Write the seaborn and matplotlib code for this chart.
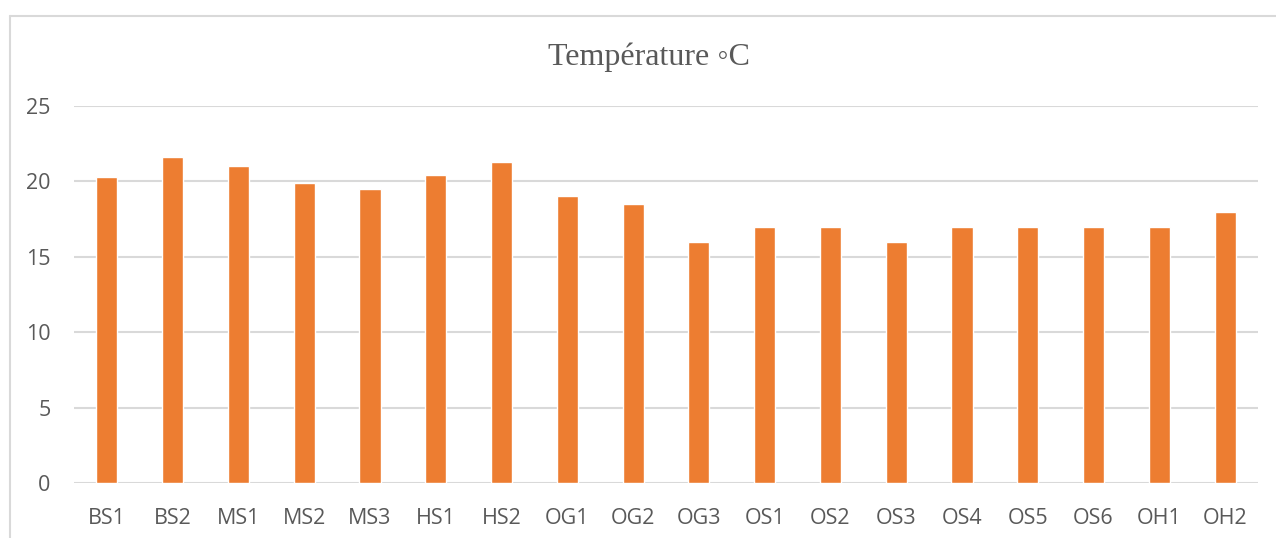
import matplotlib
matplotlib.use("Agg")
import matplotlib.pyplot as plt
import seaborn as sns
from matplotlib.lines import Line2D

categories = ["BS1", "BS2", "MS1", "MS2", "MS3", "HS1", "HS2", "OG1", "OG2",
              "OG3", "OS1", "OS2", "OS3", "OS4", "OS5", "OS6", "OH1", "OH2"]
temperature = [20.3, 21.6, 21.0, 19.9, 19.5, 20.4, 21.3, 19.0, 18.5,
               16.0, 17.0, 17.0, 16.0, 17.0, 17.0, 17.0, 17.0, 18.0]
y_ticks = [0, 5, 10, 15, 20, 25]
title = "Température ◦C"

sns.set_style("white")
plt.rcParams["font.family"] = ["Open Sans", "DejaVu Sans"]

W, H = 1276, 538
fig = plt.figure(figsize=(W / 100, H / 100), dpi=100)
ax = fig.add_axes([74 / W, 55 / H, (1258 - 74) / W, (483 - 106) / H])

sns.barplot(x=categories, y=temperature, color="#ED7D31", saturation=1,
            width=0.32, ax=ax, zorder=3)

ax.set_xlim(-0.5, len(categories) - 0.5)
ax.set_ylim(0, 25)
ax.set_yticks(y_ticks)
ax.set_xlabel("")
ax.set_ylabel("")
for s in ax.spines.values():
    s.set_visible(False)
ax.grid(axis="y", color="#d9d9d9", linewidth=1.5, zorder=0)
ax.set_axisbelow(True)
ax.tick_params(axis="both", length=0, labelsize=15.5, colors="#595959")
ax.tick_params(axis="x", pad=18)
ax.tick_params(axis="y", pad=17)

fig.text(649 / W, 1 - 57 / H, title, ha="center", va="center",
         family=["Liberation Serif", "DejaVu Serif"], fontsize=23, color="#595959")

# chart area border (partially outside the image)
fig.add_artist(Line2D([10 / W, 1.01], [1 - 16 / H, 1 - 16 / H], transform=fig.transFigure,
                      color="#d9d9d9", linewidth=1.5))
fig.add_artist(Line2D([10 / W, 10 / W], [-0.01, 1 - 16 / H], transform=fig.transFigure,
                      color="#d9d9d9", linewidth=1.5))

fig.savefig("out.png", dpi=100)
